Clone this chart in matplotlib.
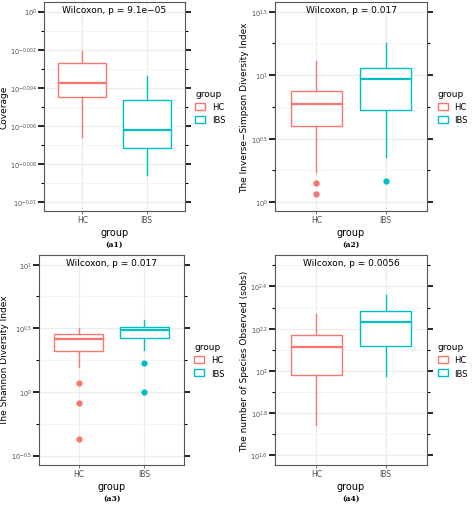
import matplotlib
matplotlib.use("Agg")
import matplotlib.pyplot as plt
from matplotlib.patches import Patch
from matplotlib.ticker import FixedLocator, MultipleLocator

groups = ["HC", "IBS"]
colors = ["#F8766D", "#00BFC4"]

# Values are log10 exponents: [whislo, q1, med, q3, whishi], outliers
cov_hc = [-0.0066, -0.0045, -0.00377, -0.00272, -0.00206]
cov_ibs = [-0.0086, -0.00715, -0.00621, -0.00464, -0.00337]
cov_out = [[], []]

inv_hc = [0.236, 0.602, 0.772, 0.872, 1.113]
inv_ibs = [0.353, 0.728, 0.969, 1.060, 1.257]
inv_out = [[0.149, 0.06], [0.170]]

sha_hc = [0.196, 0.321, 0.418, 0.457, 0.504]
sha_ibs = [0.326, 0.426, 0.488, 0.509, 0.567]
sha_out = [[0.073, -0.084, -0.373], [0.230, 0.0]]

sob_hc = [1.744, 1.98, 2.113, 2.168, 2.27]
sob_ibs = [1.975, 2.116, 2.234, 2.285, 2.362]
sob_out = [[], []]

panels = [
    dict(stats=[cov_hc, cov_ibs], out=cov_out, ylabel="Coverage", p="Wilcoxon, p = 9.1e\u221205",
         ticks=[0, -0.002, -0.004, -0.006, -0.008, -0.01],
         labels=["0", "-0.002", "-0.004", "-0.006", "-0.008", "-0.01"],
         minor=0.001, ylim=(-0.01047, 0.0005), cap="(a1)",
         rect=(44, 3, 185, 212)),
    dict(stats=[inv_hc, inv_ibs], out=inv_out, ylabel="The Inverse\u2212Simpson Diversity Index",
         p="Wilcoxon, p = 0.017", ticks=[0, 0.5, 1, 1.5], labels=["0", "0.5", "1", "1.5"],
         minor=0.25, ylim=(-0.07, 1.576), cap="(a2)", rect=(275, 3, 427, 212)),
    dict(stats=[sha_hc, sha_ibs], out=sha_out, ylabel="The Shannon Diversity Index",
         p="Wilcoxon, p = 0.017", ticks=[-0.5, 0, 0.5, 1], labels=["-0.5", "0", "0.5", "1"],
         minor=0.25, ylim=(-0.574, 1.076), cap="(a3)", rect=(39, 256, 184, 466)),
    dict(stats=[sob_hc, sob_ibs], out=sob_out, ylabel="The number of Species Observed (sobs)",
         p="Wilcoxon, p = 0.0056", ticks=[1.6, 1.8, 2.0, 2.2, 2.4], labels=["1.6", "1.8", "2", "2.2", "2.4"],
         minor=0.1, ylim=(1.555, 2.549), cap="(a4)", rect=(275, 256, 427, 466)),
]

W, H = 474, 506
fig = plt.figure(figsize=(W / 100, H / 100), dpi=100)

for pnl in panels:
    x0, y0, x1, y1 = pnl["rect"]
    ax = fig.add_axes([x0 / W, 1 - y1 / H, (x1 - x0) / W, (y1 - y0) / H])
    bx = []
    for g, s, o in zip(groups, pnl["stats"], pnl["out"]):
        bx.append(dict(label=g, whislo=s[0], q1=s[1], med=s[2], q3=s[3], whishi=s[4], fliers=o))
    for i, (b, c) in enumerate(zip(bx, colors)):
        ax.bxp([b], positions=[i + 1], widths=0.75, showcaps=False, patch_artist=True,
               boxprops=dict(facecolor="white", edgecolor=c, linewidth=1.0),
               medianprops=dict(color=c, linewidth=1.6),
               whiskerprops=dict(color=c, linewidth=1.0),
               flierprops=dict(marker="o", markerfacecolor=c, markeredgecolor=c, markersize=3.5))
    ax.set_xlim(0.4, 2.6)
    ax.set_ylim(*pnl["ylim"])
    ax.set_xticks([1, 2])
    ax.set_xticklabels(groups, fontsize=5.5, color="#4D4D4D")
    ax.yaxis.set_major_locator(FixedLocator(pnl["ticks"]))
    ax.yaxis.set_minor_locator(MultipleLocator(pnl["minor"]))
    ax.set_yticklabels([f"$10^{{{l}}}$" for l in pnl["labels"]], fontsize=4.8, color="#4D4D4D")
    ax.grid(True, which="major", color="#EBEBEB", linewidth=0.8)
    ax.grid(True, which="minor", axis="y", color="#F2F2F2", linewidth=0.5)
    ax.set_axisbelow(True)
    ax.tick_params(axis="both", length=2, width=0.5, color="#333333", pad=1)
    ax.tick_params(axis="y", which="major", right=True, length=4, width=1.2, color="black")
    ax.tick_params(axis="y", which="minor", right=True, left=True, length=2.5, width=0.8, color="black")
    for sp in ax.spines.values():
        sp.set_color("#555555")
        sp.set_linewidth(0.8)
    ax.set_xlabel("group", fontsize=7, labelpad=2)
    ax.set_ylabel(pnl["ylabel"], fontsize=6.5, labelpad=1)
    ax.text(0.5, 0.985, pnl["p"], transform=ax.transAxes, ha="center", va="top", fontsize=6.5)
    ax.legend(handles=[Patch(facecolor="white", edgecolor=c, label=g) for g, c in zip(groups, colors)],
              title="group", fontsize=6, title_fontsize=6.5, frameon=False,
              loc="center left", bbox_to_anchor=(1.02, 0.5), handlelength=1.2, handleheight=0.9,
              alignment="left")
    cx = (x0 + x1) / 2 / W
    fig.text(cx, 1 - (y1 + 33) / H, pnl["cap"], ha="center", va="center", fontsize=5.5,
             family="DejaVu Serif", weight="bold")

fig.savefig("out.png", dpi=100)
